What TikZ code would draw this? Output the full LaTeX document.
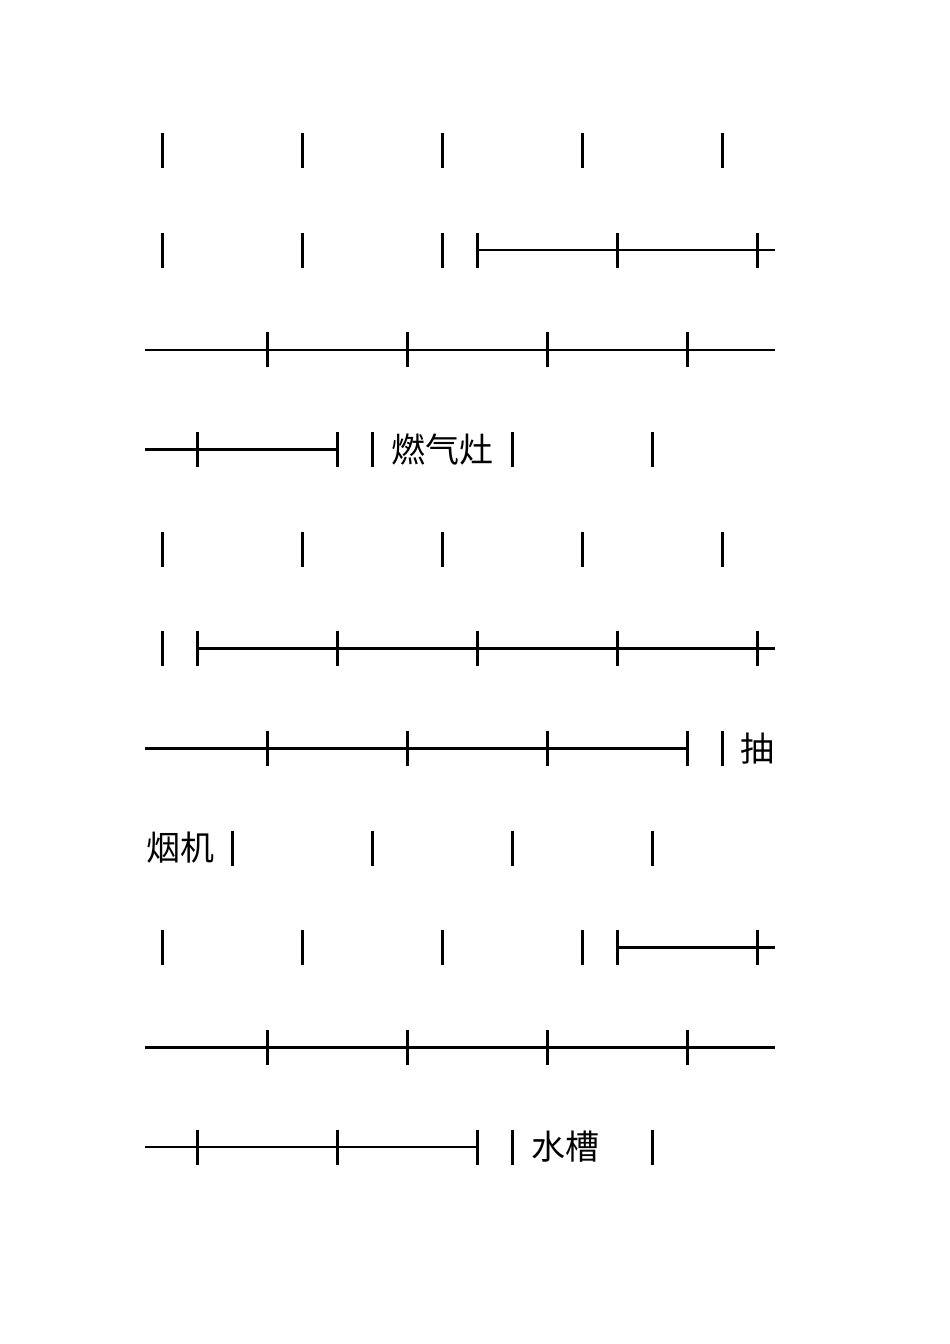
\documentclass[tikz,border=0pt]{standalone}
\usepackage{fontspec}
\newfontfamily\cjk{Noto Sans CJK SC}
\begin{document}
\begin{tikzpicture}[x=1pt,y=-1pt,
  rule/.style={line width=2.6pt,black},
  cjktext/.style={font=\cjk\fontsize{34}{34}\selectfont,inner sep=0pt,text height=0.88em,text depth=0.12em,anchor=center}]
\fill[white] (0,0) rectangle (950,1344);
\useasboundingbox (0,0) rectangle (950,1344);
\def\rowy#1{150.5+99.65*(#1-1)}
% horizontal segments: row / x1 / x2
\foreach \r/\a/\b in {2/477.5/775, 3/145/775, 4/145/337.5, 6/197.5/775, 7/145/687.5, 9/617.5/775, 10/145/775, 11/145/477.5}{
  \draw[rule] (\a,{\rowy{\r}}) -- (\b,{\rowy{\r}});
}
% vertical ticks: row / cell list
\foreach \r/\cells in {1/{0,4,8,12,16}, 2/{0,4,8,9,13,17}, 3/{3,7,11,15}, 4/{1,5,6,10,14}, 5/{0,4,8,12,16}, 6/{0,1,5,9,13,17}, 7/{3,7,11,15,16}, 8/{2,6,10,14}, 9/{0,4,8,12,13,17}, 10/{3,7,11,15}, 11/{1,5,9,10,14}}{
  \foreach \c in \cells {
    \draw[rule] ({162.5+35*\c},{\rowy{\r}-17.5}) -- ({162.5+35*\c},{\rowy{\r}+17.5});
  }
}
\node[cjktext] (ranqizao) at ({145+35*8.5},{\rowy{4}+9}) {燃气灶};
\node[cjktext] (chou) at ({145+35*17.5},{\rowy{7}+9}) {抽};
\node[cjktext] (yanji) at ({145+35*1},{\rowy{8}+9}) {烟机};
\node[cjktext] (shuicao) at ({145+35*12},{\rowy{11}+9}) {水槽};
\end{tikzpicture}
\end{document}
